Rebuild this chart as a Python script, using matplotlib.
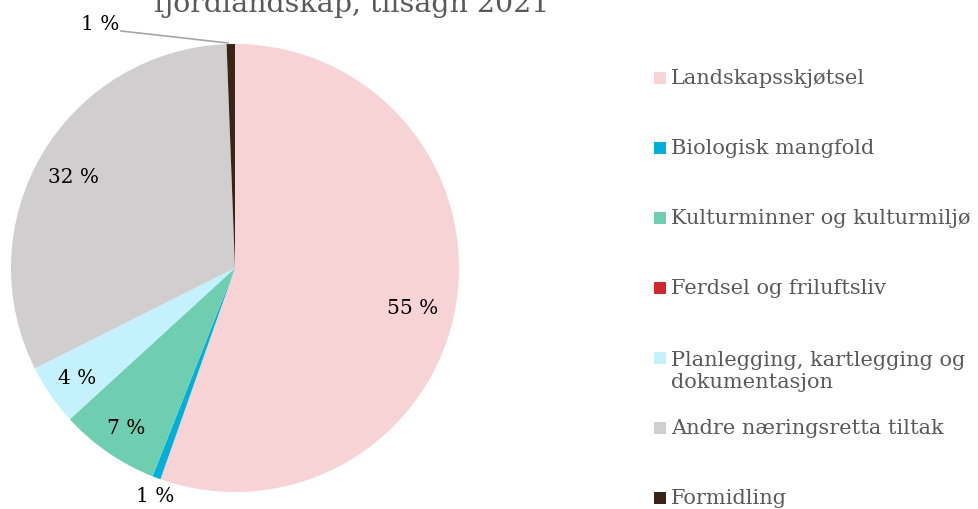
import matplotlib
matplotlib.use("Agg")
import matplotlib.pyplot as plt
from matplotlib.patches import Rectangle
import math

categories = ["Landskapsskjøtsel", "Biologisk mangfold", "Kulturminner og kulturmiljø",
              "Ferdsel og friluftsliv", "Planlegging, kartlegging og\ndokumentasjon",
              "Andre næringsretta tiltak", "Formidling"]
values = [55.4, 0.6, 7.2, 0.0, 4.4, 31.8, 0.6]
colors = ["#F7D3D6", "#00B0DA", "#6FCEB0", "#D22630", "#C4F2FC", "#D0CECE", "#3B2316"]
title = "fjordlandskap, tilsagn 2021"

W, H = 979, 509
fig = plt.figure(figsize=(W / 100, H / 100), dpi=100)
font = "DejaVu Serif"

cx, cy, r = 235, 268, 224
ax = fig.add_axes([(cx - r) / W, (H - cy - r) / H, 2 * r / W, 2 * r / H])
wedges, _ = ax.pie(values, colors=colors, startangle=90, counterclock=False,
                   radius=1, wedgeprops=dict(linewidth=0))
ax.set_xlim(-1, 1)
ax.set_ylim(-1, 1)
ax.axis("off")

def px2d(x, y):
    return ((x - cx) / r, (cy - y) / r)

label_pos = {0: (413, 308), 1: (155, 497), 2: (126, 428), 4: (77, 378), 5: (74, 178), 6: (100, 24)}
for i, v in enumerate(values):
    if v <= 0 or i not in label_pos:
        continue
    x, y = px2d(*label_pos[i])
    ax.text(x, y, f"{math.floor(v + 0.5):d} %", ha="center", va="center", fontsize=14.5,
            family=font, color="#000000", clip_on=False)

# leader line for Formidling
x0, y0 = px2d(121, 31)
x1, y1 = px2d(228, 43)
ax.plot([x0, x1], [y0, y1], color="#A6A6A6", lw=1.2, clip_on=False)

# title (partially cut off at top, as in the reference)
fig.text(352 / W, 1 - 12 / H, title, ha="center", va="baseline", fontsize=20.5,
         family=font, color="#595959")

# legend
rows = [78, 148, 218, 288, 358, 428, 498]
for i, (lab, col) in enumerate(zip(categories, colors)):
    y = rows[i]
    fig.patches.append(Rectangle((654 / W, 1 - (y + 6) / H), 12 / W, 12 / H,
                                 transform=fig.transFigure, facecolor=col, edgecolor="none"))
    ty = y + 13 if "\n" in lab else y
    fig.text(671 / W, 1 - ty / H, lab, ha="left", va="center",
             fontsize=15, family=font, color="#595959", linespacing=1.2,
             transform=fig.transFigure)

fig.savefig("out.png", dpi=100)
